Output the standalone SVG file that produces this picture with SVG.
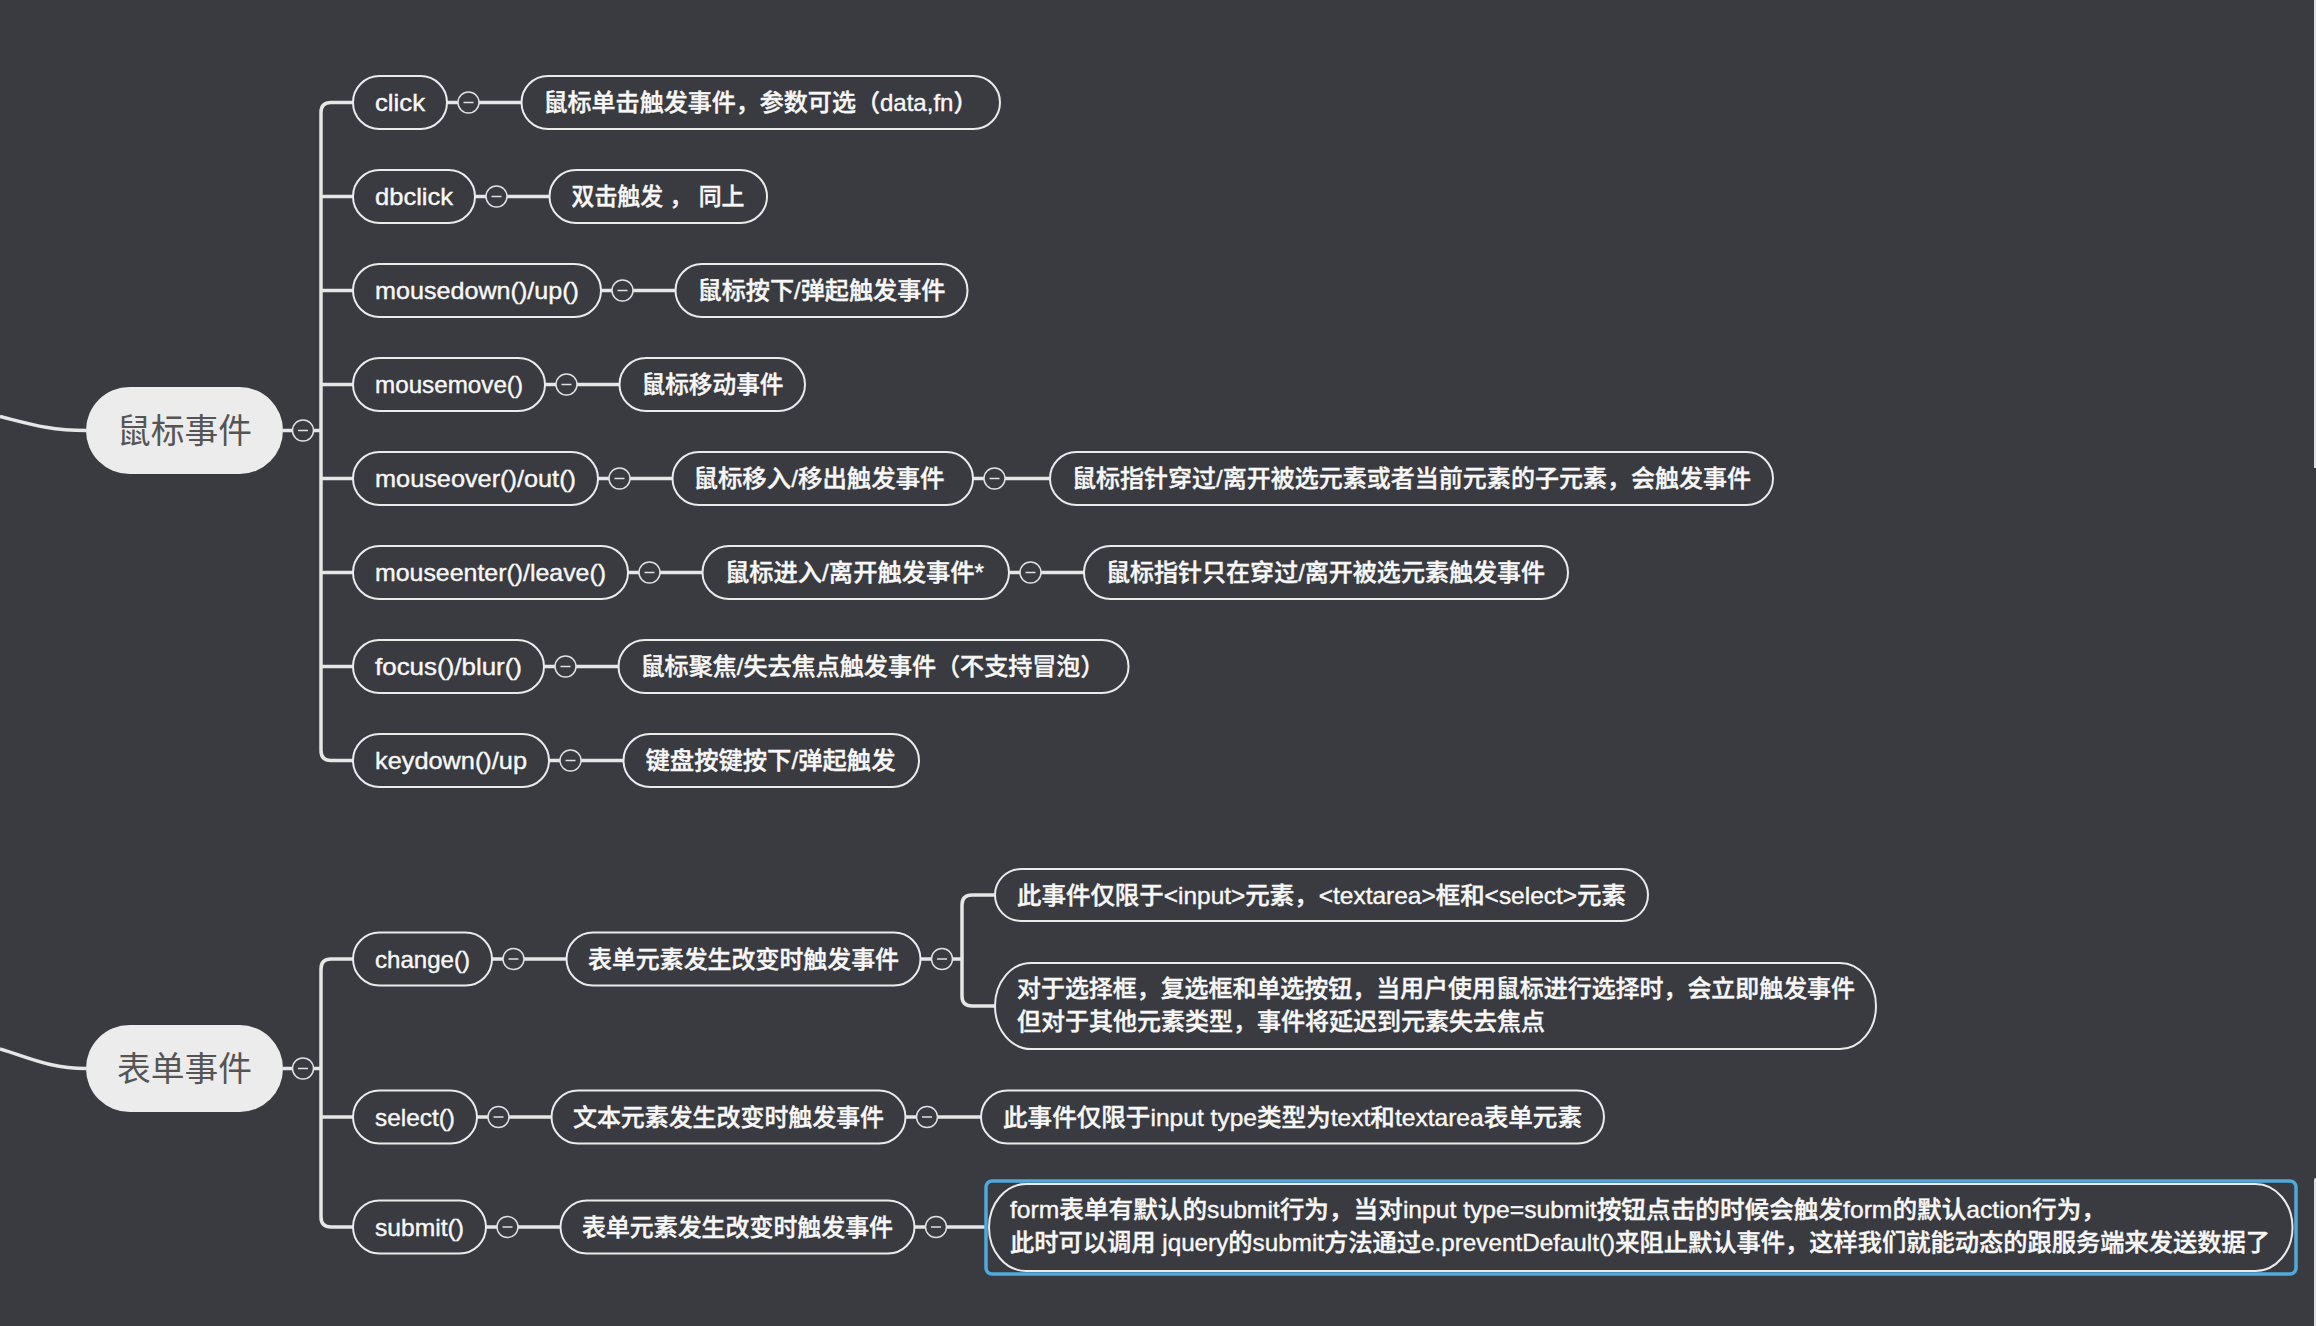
<svg xmlns="http://www.w3.org/2000/svg" xmlns:xlink="http://www.w3.org/1999/xlink" width="2316" height="1326" viewBox="0 0 2316 1326">
<style>
.bg{fill:#3a3b40}
.node rect.p{fill:#3a3b40;stroke:#ebebeb;stroke-width:2}
.root rect{fill:#ececec;stroke:none}
.rt{font-family:"Liberation Sans","Noto Sans CJK SC",sans-serif;font-size:34px;fill:#555555}
.t{font-family:"Liberation Sans","Noto Sans CJK SC",sans-serif;font-size:24px;fill:#f7f7f7;font-weight:500;stroke:#f7f7f7;stroke-width:0.4}
.conn path{fill:none;stroke:#e6e6e6;stroke-width:3.5;stroke-linecap:butt}
.col circle{fill:#3a3b40;stroke:#e0e0e0;stroke-width:1.5}
.col line{stroke:#e0e0e0;stroke-width:1.5}
.sel{fill:none;stroke:#4fa9dc;stroke-width:3.5}
.bar{fill:#e2e2e4}
</style>
<defs>
<g id="col" class="col"><circle cx="0" cy="0" r="10.5"/><line x1="-5" y1="0" x2="5" y2="0"/></g>
</defs>
<rect class="bg" x="0" y="0" width="2316" height="1326"/>
<rect class="bar" x="2314" y="0" width="2" height="468"/>
<rect class="bar" x="2314" y="1178" width="4" height="150" rx="2"/>

<g id="connectors" class="conn">
<path d="M0,416.5 C30,424 50,430.5 86,430.5"/>
<path d="M0,1049 C30,1058 50,1068.5 86,1068.5"/>
<path d="M283,430.5 H292.5 M313.5,430.5 H321"/>
<path d="M353,102.5 H331 Q321,102.5 321,112.5 V750.5 Q321,760.5 331,760.5 H353"/>
<path d="M321,196.5 H353 M321,290.5 H353 M321,384.5 H353 M321,478.5 H353 M321,572.5 H353 M321,666.5 H353"/>
<path d="M447,102.5 H458 M479,102.5 H521.5"/>
<path d="M475,196.5 H486 M507,196.5 H549.5"/>
<path d="M601,290.5 H612 M633,290.5 H675.5"/>
<path d="M545,384.5 H556 M577,384.5 H619.5"/>
<path d="M598,478.5 H609 M630,478.5 H672.5"/>
<path d="M628,572.5 H639 M660,572.5 H702.5"/>
<path d="M544,666.5 H555 M576,666.5 H618.5"/>
<path d="M549,760.5 H560 M581,760.5 H623.5"/>
<path d="M973,478.5 H984 M1005,478.5 H1050"/>
<path d="M1009,572.5 H1020 M1041,572.5 H1084"/>
<path d="M283,1068.5 H292.5 M313.5,1068.5 H321"/>
<path d="M353,959 H331 Q321,959 321,969 V1217 Q321,1227 331,1227 H353"/>
<path d="M321,1117 H353"/>
<path d="M492,959 H503 M524,959 H566.5"/>
<path d="M477,1117 H488 M509,1117 H551.5"/>
<path d="M486,1227 H497 M518,1227 H560.5"/>
<path d="M920.5,959 H931.5 M952.5,959 H962"/>
<path d="M995,895 H972 Q962,895 962,905 V996 Q962,1006 972,1006 H995"/>
<path d="M905.5,1117 H916.5 M937.5,1117 H981"/>
<path d="M914.5,1227 H925.5 M946.5,1227 H987"/>
</g>

<g id="root-mouse" class="root">
<rect x="86" y="387" width="197" height="87" rx="43.5"/>
<text class="rt" x="184.5" y="442.5" text-anchor="middle" textLength="135" lengthAdjust="spacingAndGlyphs">鼠标事件</text>
<use href="#col" x="303" y="430.5"/>
</g>

<g id="n-click" class="node"><rect class="p" x="353" y="76" width="94" height="53" rx="26.5"/><text class="t" x="375" y="111" textLength="50" lengthAdjust="spacingAndGlyphs">click</text><use href="#col" x="468.5" y="102.5"/></g>
<g id="n-click-d" class="node"><rect class="p" x="521.5" y="76" width="478.5" height="53" rx="26.5"/><text class="t" x="543.5" y="111" textLength="434" lengthAdjust="spacingAndGlyphs">鼠标单击触发事件，参数可选（data,fn）</text></g>

<g id="n-dbclick" class="node"><rect class="p" x="353" y="170" width="122" height="53" rx="26.5"/><text class="t" x="375" y="205" textLength="78" lengthAdjust="spacingAndGlyphs">dbclick</text><use href="#col" x="496.5" y="196.5"/></g>
<g id="n-dbclick-d" class="node"><rect class="p" x="549.5" y="170" width="217.5" height="53" rx="26.5"/><text class="t" x="571.5" y="205" textLength="173" lengthAdjust="spacingAndGlyphs">双击触发 ， 同上</text></g>

<g id="n-mousedown" class="node"><rect class="p" x="353" y="264" width="248" height="53" rx="26.5"/><text class="t" x="375" y="299" textLength="204" lengthAdjust="spacingAndGlyphs">mousedown()/up()</text><use href="#col" x="622.5" y="290.5"/></g>
<g id="n-mousedown-d" class="node"><rect class="p" x="675.5" y="264" width="292" height="53" rx="26.5"/><text class="t" x="697.5" y="299" textLength="248" lengthAdjust="spacingAndGlyphs">鼠标按下/弹起触发事件</text></g>

<g id="n-mousemove" class="node"><rect class="p" x="353" y="358" width="192" height="53" rx="26.5"/><text class="t" x="375" y="393" textLength="148" lengthAdjust="spacingAndGlyphs">mousemove()</text><use href="#col" x="566.5" y="384.5"/></g>
<g id="n-mousemove-d" class="node"><rect class="p" x="619.5" y="358" width="185.5" height="53" rx="26.5"/><text class="t" x="641.5" y="393" textLength="142" lengthAdjust="spacingAndGlyphs">鼠标移动事件</text></g>

<g id="n-mouseover" class="node"><rect class="p" x="353" y="452" width="245" height="53" rx="26.5"/><text class="t" x="375" y="487" textLength="201" lengthAdjust="spacingAndGlyphs">mouseover()/out()</text><use href="#col" x="619.5" y="478.5"/></g>
<g id="n-mouseover-d" class="node"><rect class="p" x="672.5" y="452" width="300.5" height="53" rx="26.5"/><text class="t" x="693.5" y="487" textLength="251" lengthAdjust="spacingAndGlyphs">鼠标移入/移出触发事件</text><use href="#col" x="994.5" y="478.5"/></g>
<g id="n-mouseover-dd" class="node"><rect class="p" x="1050" y="452" width="723" height="53" rx="26.5"/><text class="t" x="1072" y="487" textLength="679" lengthAdjust="spacingAndGlyphs">鼠标指针穿过/离开被选元素或者当前元素的子元素，会触发事件</text></g>

<g id="n-mouseenter" class="node"><rect class="p" x="353" y="546" width="275" height="53" rx="26.5"/><text class="t" x="375" y="581" textLength="231" lengthAdjust="spacingAndGlyphs">mouseenter()/leave()</text><use href="#col" x="649.5" y="572.5"/></g>
<g id="n-mouseenter-d" class="node"><rect class="p" x="702.5" y="546" width="306.5" height="53" rx="26.5"/><text class="t" x="725" y="581" textLength="259" lengthAdjust="spacingAndGlyphs">鼠标进入/离开触发事件*</text><use href="#col" x="1030.5" y="572.5"/></g>
<g id="n-mouseenter-dd" class="node"><rect class="p" x="1084" y="546" width="484" height="53" rx="26.5"/><text class="t" x="1106" y="581" textLength="439" lengthAdjust="spacingAndGlyphs">鼠标指针只在穿过/离开被选元素触发事件</text></g>

<g id="n-focus" class="node"><rect class="p" x="353" y="640" width="191" height="53" rx="26.5"/><text class="t" x="375" y="675" textLength="147" lengthAdjust="spacingAndGlyphs">focus()/blur()</text><use href="#col" x="565.5" y="666.5"/></g>
<g id="n-focus-d" class="node"><rect class="p" x="618.5" y="640" width="510" height="53" rx="26.5"/><text class="t" x="640.5" y="675" textLength="464" lengthAdjust="spacingAndGlyphs">鼠标聚焦/失去焦点触发事件（不支持冒泡）</text></g>

<g id="n-keydown" class="node"><rect class="p" x="353" y="734" width="196" height="53" rx="26.5"/><text class="t" x="375" y="769" textLength="152" lengthAdjust="spacingAndGlyphs">keydown()/up</text><use href="#col" x="570.5" y="760.5"/></g>
<g id="n-keydown-d" class="node"><rect class="p" x="623.5" y="734" width="295.5" height="53" rx="26.5"/><text class="t" x="645.5" y="769" textLength="250" lengthAdjust="spacingAndGlyphs">键盘按键按下/弹起触发</text></g>

<g id="root-form" class="root">
<rect x="86" y="1025" width="197" height="87" rx="43.5"/>
<text class="rt" x="184.5" y="1080.5" text-anchor="middle" textLength="135" lengthAdjust="spacingAndGlyphs">表单事件</text>
<use href="#col" x="303" y="1068.5"/>
</g>

<g id="n-change" class="node"><rect class="p" x="353" y="932.5" width="139" height="53" rx="26.5"/><text class="t" x="375" y="967.5" textLength="95" lengthAdjust="spacingAndGlyphs">change()</text><use href="#col" x="513.5" y="959"/></g>
<g id="n-change-d" class="node"><rect class="p" x="566.5" y="932.5" width="354" height="53" rx="26.5"/><text class="t" x="588" y="967.5" textLength="311" lengthAdjust="spacingAndGlyphs">表单元素发生改变时触发事件</text><use href="#col" x="942" y="959"/></g>
<g id="n-change-d1" class="node"><rect class="p" x="995" y="869" width="653" height="52" rx="26"/><text class="t" x="1017" y="903.5" textLength="609" lengthAdjust="spacingAndGlyphs">此事件仅限于&lt;input&gt;元素，&lt;textarea&gt;框和&lt;select&gt;元素</text></g>
<g id="n-change-d2" class="node"><rect class="p" x="995" y="963" width="881" height="86" rx="36" ry="43"/><text class="t" x="1017" y="997" textLength="838" lengthAdjust="spacingAndGlyphs">对于选择框，复选框和单选按钮，当用户使用鼠标进行选择时，会立即触发事件</text><text class="t" x="1017" y="1030">但对于其他元素类型，事件将延迟到元素失去焦点</text></g>

<g id="n-select" class="node"><rect class="p" x="353" y="1090.5" width="124" height="53" rx="26.5"/><text class="t" x="375" y="1125.5" textLength="80" lengthAdjust="spacingAndGlyphs">select()</text><use href="#col" x="498.5" y="1117"/></g>
<g id="n-select-d" class="node"><rect class="p" x="551.5" y="1090.5" width="354" height="53" rx="26.5"/><text class="t" x="573" y="1125.5" textLength="311" lengthAdjust="spacingAndGlyphs">文本元素发生改变时触发事件</text><use href="#col" x="927" y="1117"/></g>
<g id="n-select-dd" class="node"><rect class="p" x="981" y="1090.5" width="623" height="53" rx="26.5"/><text class="t" x="1003" y="1125.5" textLength="579" lengthAdjust="spacingAndGlyphs">此事件仅限于input type类型为text和textarea表单元素</text></g>

<g id="n-submit" class="node"><rect class="p" x="353" y="1200.5" width="133" height="53" rx="26.5"/><text class="t" x="375" y="1235.5" textLength="89" lengthAdjust="spacingAndGlyphs">submit()</text><use href="#col" x="507.5" y="1227"/></g>
<g id="n-submit-d" class="node"><rect class="p" x="560.5" y="1200.5" width="354" height="53" rx="26.5"/><text class="t" x="582" y="1235.5" textLength="311" lengthAdjust="spacingAndGlyphs">表单元素发生改变时触发事件</text><use href="#col" x="936" y="1227"/></g>
<g id="n-submit-dd" class="node"><rect class="sel" x="986" y="1181" width="1310" height="93" rx="6"/><rect class="p" x="989" y="1184" width="1303.5" height="87" rx="37" ry="43.5"/><text class="t" x="1010" y="1218" textLength="1096" lengthAdjust="spacingAndGlyphs">form表单有默认的submit行为，当对input type=submit按钮点击的时候会触发form的默认action行为，</text><text class="t" x="1010" y="1251" textLength="1260" lengthAdjust="spacingAndGlyphs">此时可以调用 jquery的submit方法通过e.preventDefault()来阻止默认事件，这样我们就能动态的跟服务端来发送数据了</text></g>
</svg>
